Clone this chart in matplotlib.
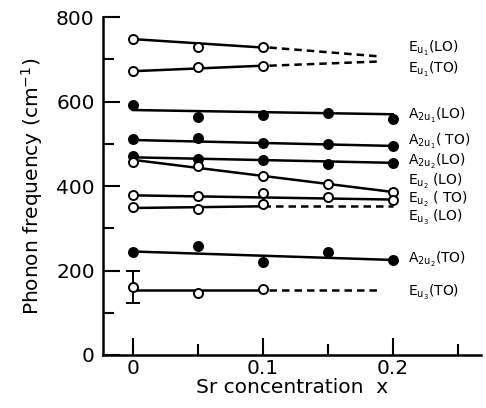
import matplotlib
matplotlib.use("Agg")
import matplotlib.pyplot as plt
import numpy as np

plt.rcParams['font.family'] = ['DejaVu Sans']
plt.rcParams['mathtext.fontset'] = 'dejavusans'

x5 = [0.0, 0.05, 0.10, 0.15, 0.20]
x3 = [0.0, 0.05, 0.10]

# open-circle modes measured only up to x = 0.1
eu1_lo = [748, 729, 730]
eu1_lo_fit = [748, 728]
eu1_lo_ext = [728, 707]
eu1_to = [672, 682, 685]
eu1_to_fit = [672, 685]
eu1_to_ext = [685, 695]
eu3_lo = [350, 345, 357]
eu3_lo_fit = [348, 352]
eu3_lo_ext = [352, 352]
eu3_to = [160, 146, 157]
eu3_to_fit = [155, 155]
eu3_to_ext = [155, 155]
eu3_to_err = 38

# modes measured up to x = 0.2
a2u1_lo = [592, 564, 568, 573, 559]
a2u1_lo_fit = [580, 570]
a2u1_to = [511, 513, 502, 499, 495]
a2u1_to_fit = [509, 495]
a2u2_lo = [471, 463, 461, 452, 455]
a2u2_lo_fit = [468, 455]
eu2_lo = [456, 448, 424, 405, 387]
eu2_lo_fit = [462, 386]
eu2_to = [379, 376, 384, 375, 367]
eu2_to_fit = [378, 368]
a2u2_to = [245, 259, 221, 245, 225]
a2u2_to_fit = [245, 225]

labels = [r'$\mathrm{E_{u_1}}$(LO)', r'$\mathrm{E_{u_1}}$(TO)',
          r'$\mathrm{A_{2u_1}}$(LO)', r'$\mathrm{A_{2u_1}}$( TO)',
          r'$\mathrm{A_{2u_2}}$(LO)', r'$\mathrm{E_{u_2}}$ (LO)',
          r'$\mathrm{E_{u_2}}$ ( TO)', r'$\mathrm{E_{u_3}}$ (LO)',
          r'$\mathrm{A_{2u_2}}$(TO)', r'$\mathrm{E_{u_3}}$(TO)']
label_y = [727, 675, 568, 506, 459, 411, 368, 325, 227, 149]

fig = plt.figure(figsize=(4.86, 4.08), dpi=100)
ax = fig.add_axes([0.212, 0.13, 0.778, 0.828])

lw = 1.8
ms = 6.5
fit_x = [0.0, 0.2]
fit_x_open = [0.0, 0.1]
ext_x = [0.105, 0.19]

for data, fit, ext in [(eu1_lo, eu1_lo_fit, eu1_lo_ext),
                       (eu1_to, eu1_to_fit, eu1_to_ext),
                       (eu3_lo, eu3_lo_fit, eu3_lo_ext),
                       (eu3_to, eu3_to_fit, eu3_to_ext)]:
    ax.plot(fit_x_open, fit, color='black', lw=lw, zorder=2)
    ax.plot([0.1, 0.2] if ext is eu3_lo_ext else ext_x, ext, color='black',
            lw=lw, ls=(0, (3, 2)), zorder=2)
    ax.plot(x3, data, 'o', ms=ms, mfc='white', mec='black', mew=1.4, zorder=3)

for data, fit, filled in [(a2u1_lo, a2u1_lo_fit, True),
                          (a2u1_to, a2u1_to_fit, True),
                          (a2u2_lo, a2u2_lo_fit, True),
                          (eu2_lo, eu2_lo_fit, False),
                          (eu2_to, eu2_to_fit, False),
                          (a2u2_to, a2u2_to_fit, True)]:
    ax.plot(fit_x, fit, color='black', lw=lw, zorder=2)
    ax.plot(x5, data, 'o', ms=ms, mfc='black' if filled else 'white',
            mec='black', mew=1.4, zorder=3)

ax.errorbar([0.0], [eu3_to[0]], yerr=[eu3_to_err], fmt='none', ecolor='black',
            elinewidth=1.4, capsize=5, capthick=1.4, zorder=2)

for lab, ly in zip(labels, label_y):
    ax.text(0.212, ly, lab, fontsize=10, va='center', ha='left')

ax.set_xlim(-0.023, 0.268)
ax.set_ylim(0, 800)
ax.set_xticks([0, 0.1, 0.2])
ax.set_xticklabels(['0', '0.1', '0.2'])
ax.set_xticks([0.05, 0.15, 0.25], minor=True)
ax.set_yticks([0, 200, 400, 600, 800])
ax.set_yticks([100, 300, 500, 700], minor=True)
ax.tick_params(which='major', direction='in', length=12, width=1.5, labelsize=14.5)
ax.tick_params(axis='x', which='major', pad=3)
ax.tick_params(axis='y', which='major', pad=6)
ax.tick_params(which='minor', direction='in', length=8, width=1.5)
for s in ['top', 'right']:
    ax.spines[s].set_visible(False)
for s in ['left', 'bottom']:
    ax.spines[s].set_linewidth(1.8)

ax.set_xlabel('Sr concentration  x', fontsize=14.5, labelpad=0)
ax.set_ylabel(r'Phonon frequency (cm$^{-1}$)', fontsize=14.5, labelpad=8)

fig.savefig('out.png', dpi=100)
